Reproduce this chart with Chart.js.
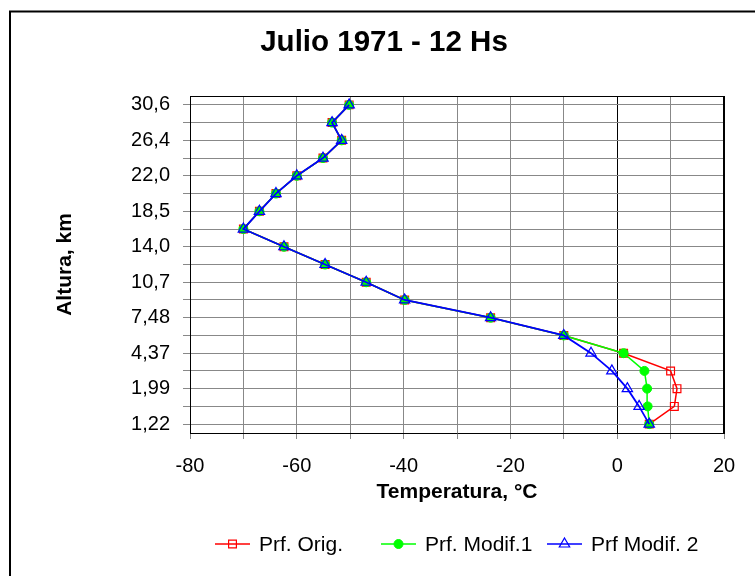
<!DOCTYPE html>
<html><head><meta charset="utf-8">
<script src="https://cdn.jsdelivr.net/npm/chart.js@4.4.1/dist/chart.umd.min.js"></script>
<style>html,body{margin:0;padding:0;background:#fff;}canvas{display:block;}</style>
</head><body>
<canvas id="c" width="755" height="576"></canvas>
<script>
// Altitude levels (bottom to top); only every other level is labelled in the source
const altitudeLabels = ['1,22','','1,99','','4,37','','7,48','','10,7','','14,0','','18,5','','22,0','','26,4','','30,6'];
// Temperatures (°C), bottom to top
const prfOrig   = [6.0, 10.7, 11.2, 10.0, 1.2, -10.0, -23.7, -39.8, -47.0, -54.7, -62.4, -70.0, -67.0, -63.9, -60.0, -55.1, -51.6, -53.4, -50.2];
const prfModif1 = [6.0, 5.7, 5.6, 5.1, 1.2, -10.0, -23.7, -39.8, -47.0, -54.7, -62.4, -70.0, -67.0, -63.9, -60.0, -55.1, -51.6, -53.4, -50.2];
const prfModif2 = [6.0, 4.1, 1.9, -1.0, -4.9, -10.0, -23.7, -39.8, -47.0, -54.7, -62.4, -70.0, -67.0, -63.9, -60.0, -55.1, -51.6, -53.4, -50.2];
const seriesNames = ['Prf. Orig.', 'Prf. Modif.1', 'Prf Modif. 2'];
const xMin = -80, xMax = 20, xStep = 10, xLabelStep = 20;
const chartTitle = 'Julio 1971 - 12 Hs';
const xTitle = 'Temperatura, °C';
const yTitle = 'Altura, km';

const FONT = "'Liberation Sans', Arial, sans-serif";
Chart.defaults.font.family = FONT;
Chart.defaults.color = '#000';

function drawMarker(ctx, style, x, y, r) {
  ctx.beginPath();
  if (style === 'rect') {
    const s = Math.SQRT1_2 * r;
    ctx.rect(x - s, y - s, 2 * s, 2 * s);
  } else if (style === 'triangle') {
    ctx.moveTo(x, y - r);
    ctx.lineTo(x + r * Math.sin(2 * Math.PI / 3), y + r / 2);
    ctx.lineTo(x - r * Math.sin(2 * Math.PI / 3), y + r / 2);
    ctx.closePath();
  } else {
    ctx.arc(x, y, r, 0, Math.PI * 2);
  }
}

const framePlugin = {
  id: 'frame',
  beforeDraw(chart) {
    const ctx = chart.ctx;
    ctx.save();
    ctx.fillStyle = '#fff';
    ctx.fillRect(0, 0, chart.width, chart.height);
    ctx.strokeStyle = '#000';
    ctx.lineWidth = 2;
    ctx.strokeRect(10, 11.5, chart.width + 20, chart.height + 20);
    // chart title, centred on the outer frame
    ctx.fillStyle = '#000';
    ctx.font = 'bold 29.5px ' + FONT;
    ctx.textAlign = 'center';
    ctx.textBaseline = 'middle';
    ctx.fillText(chartTitle, 384, 42.5);
    ctx.restore();
  },
  afterDatasetsDraw(chart) {
    const ctx = chart.ctx, a = chart.chartArea;
    ctx.save();
    ctx.strokeStyle = '#000';
    ctx.lineWidth = 1;
    const t = Math.round(a.top) + 0.5, r = Math.round(a.right) - 0.5;
    ctx.beginPath();
    ctx.moveTo(a.left, t); ctx.lineTo(a.right, t);
    ctx.moveTo(r, a.top); ctx.lineTo(r, a.bottom);
    ctx.stroke();
    ctx.restore();
  },
  afterDraw(chart) {
    const ctx = chart.ctx;
    const y = 544, colX = [215, 381, 547], lineLen = 35, textGap = 9;
    ctx.save();
    chart.data.datasets.forEach((ds, i) => {
      const x0 = colX[i];
      ctx.strokeStyle = ds.borderColor;
      ctx.lineWidth = 1.5;
      ctx.beginPath(); ctx.moveTo(x0, y); ctx.lineTo(x0 + lineLen, y); ctx.stroke();
      ctx.fillStyle = ds.pointBackgroundColor;
      ctx.lineWidth = ds.pointBorderWidth;
      drawMarker(ctx, ds.pointStyle, x0 + lineLen / 2, y, ds.pointRadius);
      ctx.fill(); ctx.stroke();
      ctx.fillStyle = '#000';
      ctx.font = '21px ' + FONT;
      ctx.textBaseline = 'middle';
      ctx.textAlign = 'left';
      ctx.fillText(ds.label, x0 + lineLen + textGap, y + 1);
    });
    ctx.restore();
  }
};

new Chart(document.getElementById('c'), {
  type: 'line',
  data: {
    labels: altitudeLabels,
    datasets: [
      { label: seriesNames[0], data: prfOrig, borderColor: '#FF0000', borderWidth: 1.5,
        pointStyle: 'rect', pointRadius: 5.5, pointBorderWidth: 1.2,
        pointBackgroundColor: 'rgba(0,0,0,0)', pointBorderColor: '#FF0000', order: 3 },
      { label: seriesNames[1], data: prfModif1, borderColor: '#00FF00', borderWidth: 1.5,
        pointStyle: 'circle', pointRadius: 4.5, pointBorderWidth: 1,
        pointBackgroundColor: '#00FF00', pointBorderColor: '#00FF00', order: 2 },
      { label: seriesNames[2], data: prfModif2, borderColor: '#0000FF', borderWidth: 1.8,
        pointStyle: 'triangle', pointRadius: 6, pointBorderWidth: 1.2,
        pointBackgroundColor: 'rgba(0,0,0,0)', pointBorderColor: '#0000FF', order: 1 }
    ]
  },
  options: {
    indexAxis: 'y',
    responsive: false,
    animation: false,
    devicePixelRatio: 1,
    layout: { padding: { left: 10, right: 31, top: 96, bottom: 63 } },
    plugins: {
      legend: { display: false },
      tooltip: { enabled: false },
      title: { display: false }
    },
    elements: { line: { tension: 0 } },
    scales: {
      x: {
        type: 'linear', min: xMin, max: xMax,
        ticks: {
          stepSize: xStep, autoSkip: false, padding: 15,
          font: { size: 20 }, color: '#000',
          callback: (v) => (v % xLabelStep === 0 ? String(v) : '')
        },
        grid: {
          color: (c) => (c.tick && (c.tick.value === 0 || c.tick.value === xMax) ? '#000' : '#888'),
          lineWidth: 1, tickLength: 6, tickColor: '#888', drawTicks: true
        },
        border: { display: true, color: '#000', width: 1 },
        title: { display: true, text: xTitle, font: { size: 21, weight: 'bold' }, color: '#000',
                 padding: { top: 0, bottom: 8.4 } },
        afterFit: (s) => { s.height = 80; }
      },
      y: {
        type: 'category', reverse: true, offset: true,
        ticks: { autoSkip: false, padding: 13, font: { size: 20 }, color: '#000' },
        grid: { color: '#888', lineWidth: 1, tickLength: 7, tickColor: '#888', offset: false },
        border: { display: true, color: '#000', width: 1 },
        title: { display: true, text: yTitle, font: { size: 21, weight: 'bold' }, color: '#000',
                 padding: { top: 42.4, bottom: 0 } },
        afterFit: (s) => { s.width = 180; }
      }
    }
  },
  plugins: [framePlugin]
});
</script>
</body></html>
